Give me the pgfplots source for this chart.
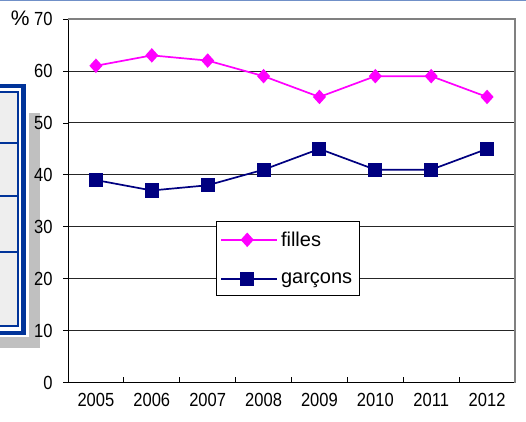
\documentclass[border=0pt]{standalone}
\usepackage{fontspec}
\setmainfont{Liberation Sans}
\newfontfamily\tickfont[FakeStretch=0.87]{Liberation Sans}
\usepackage{pgfplots}
\pgfplotsset{compat=1.18}
\definecolor{fil}{RGB}{255,0,255}
\definecolor{gar}{RGB}{0,0,128}
\definecolor{boxblue}{RGB}{0,51,153}
\definecolor{topblue}{RGB}{112,144,200}
\definecolor{shadowgray}{RGB}{192,192,192}
\definecolor{framegray}{RGB}{128,128,128}
\definecolor{boxfill}{RGB}{238,238,238}
\begin{document}
\begin{tikzpicture}[x=1pt,y=1pt]
\useasboundingbox (0,0) rectangle (526,421);
% top rule
\fill[topblue] (0,419.5) rectangle (526,421);
% partial box at the left
\fill[shadowgray] (0,73) rectangle (40,308);
\fill[white] (0,84) rectangle (28.5,339);
\fill[boxblue] (-5,86) rectangle (26,337);
\fill[white] (-5,90) rectangle (21,333);
\fill[boxblue] (-5,94) rectangle (19,330);
\fill[boxfill] (-5,96) rectangle (17,328);
\foreach \yy in {278,225,169} {\fill[boxblue] (-5,\yy-1) rectangle (19,\yy+1);}
\begin{axis}[
  at={(68pt,38.3pt)}, anchor=south west, scale only axis,
  width=447pt, height=363.7pt,
  xmin=-0.5, xmax=7.5, ymin=0, ymax=70,
  axis lines=left,
  axis line style={-, black, line width=1pt},
  ytick={0,10,...,70},
  ymajorgrids,
  grid style={black!85, line width=0.9pt},
  xtick={0,...,7},
  xticklabels={2005,2006,2007,2008,2009,2010,2011,2012},
  minor xtick={0.5,1.5,...,6.5},
  tick align=outside,
  major tick length=5pt,
  minor tick length=6pt,
  major x tick style={draw=none},
  minor x tick style={black, line width=0.8pt, yshift=6pt},
  major y tick style={black, line width=0.8pt},
  /pgf/number format/assume math mode=true,
  yticklabel style={font=\tickfont\fontsize{19}{19}\selectfont, xshift=-7pt},
  xticklabel style={font=\tickfont\fontsize{19}{19}\selectfont, yshift=-2pt},
  legend style={at={(rel axis cs:0.331,0.4435)}, anchor=north west,
    draw=black, fill=white, line width=0.8pt,
    font=\fontsize{20}{20}\selectfont,
    inner xsep=4pt, inner ysep=7pt, row sep=19pt,
    nodes={inner sep=3pt, anchor=west}},
  legend cell align=left,
  legend image code/.code={\path (-1pt,0pt) -- (55pt,0pt);\draw[mark repeat=2,mark phase=2,#1] plot coordinates {(0pt,0pt) (25pt,0pt) (50pt,0pt)};},
  clip=false,
]
\draw[framegray, line width=1.8pt] (rel axis cs:0,1) -- (rel axis cs:1,1) -- (rel axis cs:1,0);
\addplot[fil, line width=1.7pt, mark=diamond*, mark size=6pt, mark options={xscale=1.2, fill=fil, draw=fil}]
  coordinates {(0,61) (1,63) (2,62) (3,59) (4,55) (5,59) (6,59) (7,55)};
\addlegendentry{filles}
\addplot[gar, line width=1.7pt, mark=square*, mark size=6.2pt, mark options={fill=gar, draw=gar}]
  coordinates {(0,39) (1,37) (2,38) (3,41) (4,45) (5,41) (6,41) (7,45)};
\addlegendentry{garçons}
\node[anchor=east, font=\fontsize{21}{21}\selectfont] at (rel axis cs:0,1) [xshift=-35pt, yshift=1pt] {\%};
\end{axis}
\end{tikzpicture}
\end{document}
